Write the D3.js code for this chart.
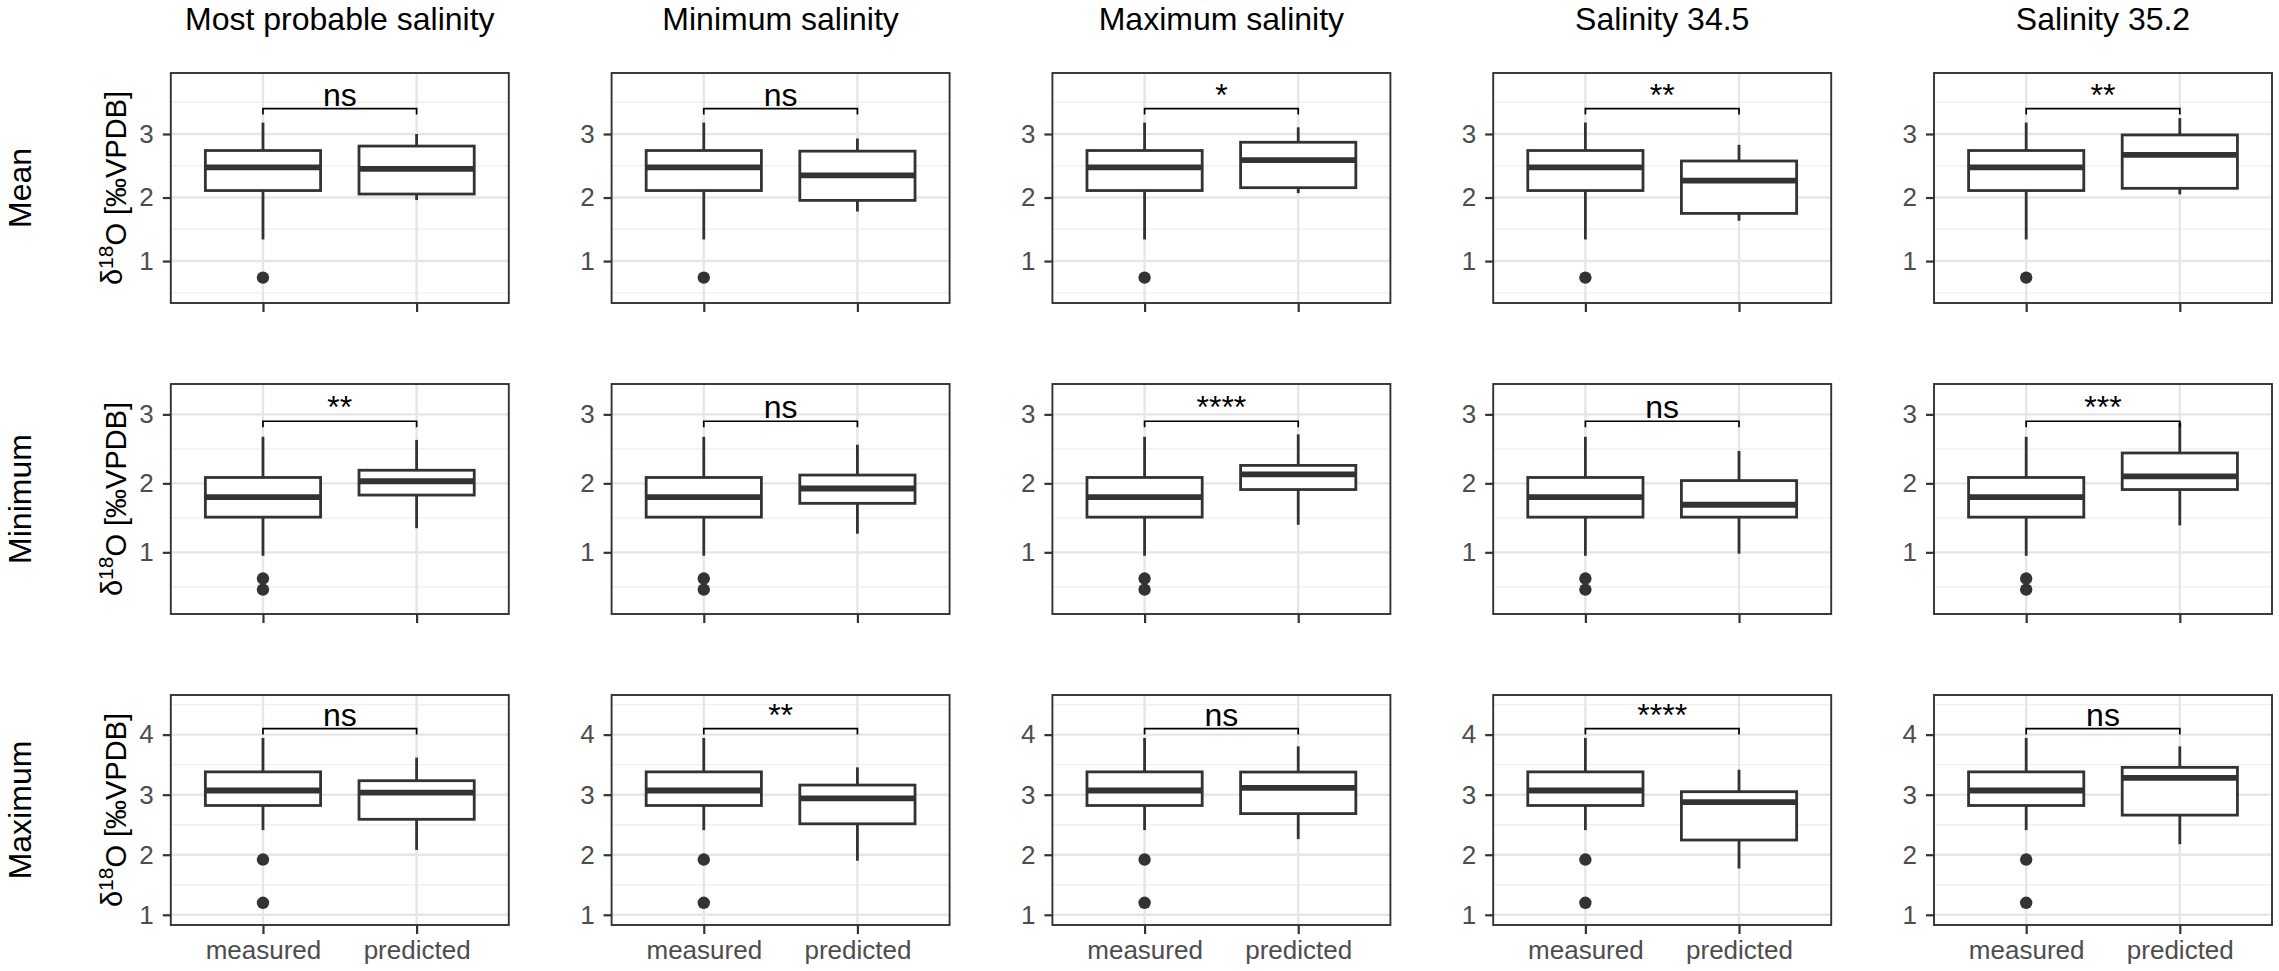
<!DOCTYPE html>
<html>
<head>
<meta charset="utf-8">
<script src="https://cdn.jsdelivr.net/npm/d3@7"></script>
<style>
  body { margin: 0; background: #fff; }
  svg { font-family: "Liberation Sans", Arial, sans-serif; display: block; }
</style>
</head>
<body>
<svg id="chart"></svg>
<script>
const columnTitles = ["Most probable salinity", "Minimum salinity", "Maximum salinity", "Salinity 34.5", "Salinity 35.2"];
const rowTitles = ["Mean", "Minimum", "Maximum"];
const groups = ["measured", "predicted"];

// box stats: [lower whisker, Q1, median, Q3, upper whisker]
const measuredBoxes = [
  [1.34, 2.11, 2.475, 2.74, 3.18],
  [0.95, 1.51, 1.80, 2.085, 2.675],
  [2.41, 2.82, 3.07, 3.38, 3.945]
];
const measuredOutliers = [[0.74], [0.62, 0.46], [1.92, 1.20]];

const predictedBoxes = [
  [[1.96, 2.055, 2.45, 2.81, 3.0], [1.78, 1.955, 2.35, 2.73, 2.93], [2.07, 2.155, 2.59, 2.87, 3.105], [1.635, 1.75, 2.265, 2.575, 2.83], [2.05, 2.145, 2.67, 2.985, 3.25]],
  [[1.35, 1.83, 2.03, 2.19, 2.63], [1.27, 1.71, 1.925, 2.12, 2.56], [1.40, 1.91, 2.13, 2.26, 2.71], [0.98, 1.51, 1.69, 2.04, 2.47], [1.39, 1.91, 2.10, 2.44, 2.88]],
  [[2.08, 2.59, 3.033, 3.233, 3.617], [1.90, 2.515, 2.94, 3.16, 3.455], [2.26, 2.685, 3.115, 3.377, 3.805], [1.77, 2.245, 2.875, 3.05, 3.415], [2.175, 2.66, 3.28, 3.455, 3.805]]
];

const signifLabels = [
  ["ns", "ns", "*", "**", "**"],
  ["**", "ns", "****", "ns", "***"],
  ["ns", "**", "ns", "****", "ns"]
];
const bracketY = [3.40, 2.90, 4.10];

const yDomains = [[0.34, 3.96], [0.106, 3.44], [0.83, 4.66]];
const yTicks = [[1, 2, 3], [1, 2, 3], [1, 2, 3, 4]];
const yMinorTicks = [[0.5, 1.5, 2.5, 3.5], [0.5, 1.5, 2.5], [1.5, 2.5, 3.5, 4.5]];

const drawChart = () => {
  const WIDTH = 2279;
  const HEIGHT = 971;
  const PANEL_W = 338;
  const PANEL_H = 230;
  const COL_LEFT = 170.8;
  const COL_STEP = 440.8;
  const ROW_TOP = [73, 384, 695];
  const DARK = "#333333";

  const svg = d3.select("#chart").attr("width", WIDTH).attr("height", HEIGHT);

  const x = d3.scalePoint().domain(groups).range([0, PANEL_W]).padding(0.6);
  const boxW = x.step() * 0.75;

  // column titles
  svg.selectAll(".col-title").data(columnTitles).enter()
    .append("text")
    .attr("class", "col-title")
    .attr("x", (d, i) => COL_LEFT + i * COL_STEP + PANEL_W / 2)
    .attr("y", 30)
    .attr("text-anchor", "middle")
    .style("font-size", "32px")
    .attr("fill", "#000")
    .text(d => d);

  rowTitles.forEach((rowName, r) => {
    const top = ROW_TOP[r];
    const cy = top + PANEL_H / 2;

    // row label
    svg.append("text")
      .attr("transform", `translate(31,${cy}) rotate(-90)`)
      .attr("text-anchor", "middle")
      .style("font-size", "32px")
      .attr("fill", "#000")
      .text(rowName);

    // y axis title
    const yt = svg.append("text")
      .attr("transform", `translate(122,${cy}) rotate(-90)`)
      .attr("text-anchor", "middle")
      .style("font-size", "29px")
      .attr("fill", "#000");
    yt.append("tspan").text("δ");
    yt.append("tspan").attr("dy", "-0.45em").style("font-size", "21px").text("18");
    yt.append("tspan").attr("dy", "0.45em").text("O [‰VPDB]");

    const y = d3.scaleLinear().domain(yDomains[r]).range([PANEL_H, 0]);
    const tip = (yDomains[r][1] - yDomains[r][0]) * 0.026;

    columnTitles.forEach((colName, c) => {
      const g = svg.append("g")
        .attr("transform", `translate(${COL_LEFT + c * COL_STEP},${top})`);

      g.append("rect")
        .attr("width", PANEL_W).attr("height", PANEL_H)
        .attr("fill", "#fff");

      // minor grid
      g.selectAll(".minor").data(yMinorTicks[r]).enter()
        .append("line")
        .attr("x1", 0).attr("x2", PANEL_W)
        .attr("y1", d => y(d)).attr("y2", d => y(d))
        .attr("stroke", "#f0f0f0").attr("stroke-width", 1.4);

      // major grid
      g.selectAll(".major").data(yTicks[r]).enter()
        .append("line")
        .attr("x1", 0).attr("x2", PANEL_W)
        .attr("y1", d => y(d)).attr("y2", d => y(d))
        .attr("stroke", "#e6e6e6").attr("stroke-width", 2.4);
      g.selectAll(".vgrid").data(groups).enter()
        .append("line")
        .attr("x1", d => x(d)).attr("x2", d => x(d))
        .attr("y1", 0).attr("y2", PANEL_H)
        .attr("stroke", "#e6e6e6").attr("stroke-width", 2.4);

      const boxes = [
        { group: "measured", s: measuredBoxes[r], out: measuredOutliers[r] },
        { group: "predicted", s: predictedBoxes[r][c], out: [] }
      ];

      boxes.forEach(b => {
        const cx = x(b.group);
        const [lo, q1, med, q3, hi] = b.s;
        g.append("line")
          .attr("x1", cx).attr("x2", cx)
          .attr("y1", y(hi)).attr("y2", y(q3))
          .attr("stroke", DARK).attr("stroke-width", 2.8);
        g.append("line")
          .attr("x1", cx).attr("x2", cx)
          .attr("y1", y(q1)).attr("y2", y(lo))
          .attr("stroke", DARK).attr("stroke-width", 2.8);
        g.append("rect")
          .attr("x", cx - boxW / 2).attr("width", boxW)
          .attr("y", y(q3)).attr("height", y(q1) - y(q3))
          .attr("fill", "#fff")
          .attr("stroke", DARK).attr("stroke-width", 2.8);
        g.append("line")
          .attr("x1", cx - boxW / 2).attr("x2", cx + boxW / 2)
          .attr("y1", y(med)).attr("y2", y(med))
          .attr("stroke", DARK).attr("stroke-width", 5.8);
        g.selectAll(null).data(b.out).enter()
          .append("circle")
          .attr("cx", cx).attr("cy", d => y(d)).attr("r", 6.2)
          .attr("fill", DARK);
      });

      // significance bracket
      const bx1 = x(groups[0]);
      const bx2 = x(groups[1]);
      const by = y(bracketY[r]);
      g.append("path")
        .attr("d", `M${bx1},${y(bracketY[r] - tip)}V${by}H${bx2}V${y(bracketY[r] - tip)}`)
        .attr("fill", "none")
        .attr("stroke", "#000").attr("stroke-width", 1.7);
      g.append("text")
        .attr("x", (bx1 + bx2) / 2)
        .attr("y", by - 3)
        .attr("text-anchor", "middle")
        .style("font-size", "32px")
        .attr("fill", "#000")
        .text(signifLabels[r][c]);

      // y axis
      const yAxis = g.append("g")
        .call(d3.axisLeft(y).tickValues(yTicks[r]).tickSize(8).tickPadding(9).tickFormat(d3.format("d")));
      yAxis.select(".domain").remove();
      yAxis.selectAll("line").attr("stroke", DARK).attr("stroke-width", 2.2);
      yAxis.selectAll("text").attr("fill", "#4d4d4d").style("font-size", "26px")
        .style("font-family", "'Liberation Sans', Arial, sans-serif");

      // x axis
      const xAxis = g.append("g")
        .attr("transform", `translate(0,${PANEL_H})`)
        .call(d3.axisBottom(x).tickSize(9).tickPadding(6.5)
          .tickFormat(r === rowTitles.length - 1 ? d => d : () => ""));
      xAxis.select(".domain").remove();
      xAxis.selectAll("line").attr("stroke", DARK).attr("stroke-width", 2.2);
      xAxis.selectAll("text").attr("fill", "#4d4d4d").style("font-size", "26px")
        .style("font-family", "'Liberation Sans', Arial, sans-serif");

      // panel border
      g.append("rect")
        .attr("width", PANEL_W).attr("height", PANEL_H)
        .attr("fill", "none")
        .attr("stroke", DARK).attr("stroke-width", 1.9);
    });
  });
};

const main = () => {
  drawChart();
};
window.onload = main;
</script>
</body>
</html>
